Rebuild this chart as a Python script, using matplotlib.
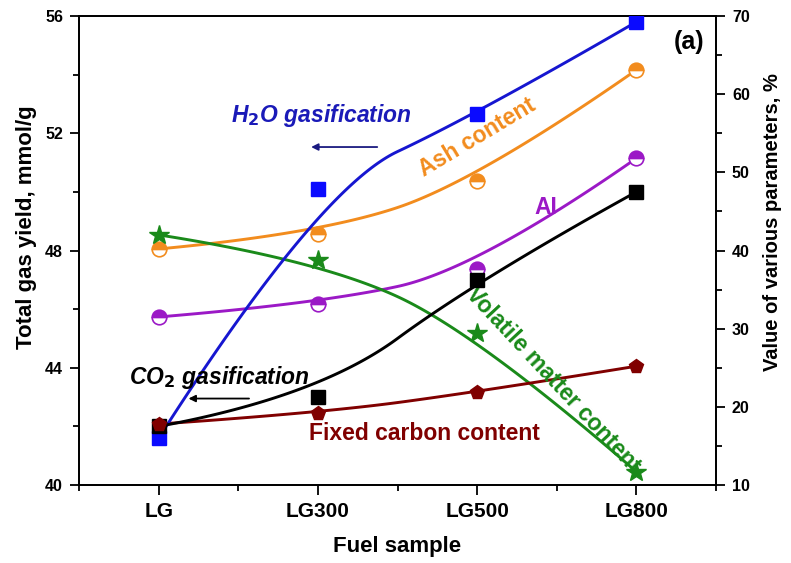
import numpy as np
import matplotlib
matplotlib.use("Agg")
import matplotlib.pyplot as plt
from matplotlib.ticker import MultipleLocator

plt.rcParams['font.family'] = ['Liberation Sans', 'DejaVu Sans']
plt.rcParams['font.weight'] = 'bold'

samples = ["LG", "LG300", "LG500", "LG800"]

# total gas yield, mmol/g (left axis)
h2o_yield = [41.6, 50.1, 52.65, 55.8]
co2_yield = [42.0, 43.0, 47.0, 50.0]

# fuel properties, % (right axis)
ash = [40.2, 42.1, 48.9, 63.1]
ai = [31.5, 33.2, 37.6, 51.8]
volatile = [42.0, 38.8, 29.4, 11.7]
fixed_carbon = [17.8, 19.2, 21.9, 25.2]


def bspline2(xs, ys, n=60):
    # clamped quadratic B-spline using the points as control points
    P = np.column_stack([xs, ys]).astype(float)
    mids = [(P[i] + P[i + 1]) / 2 for i in range(1, len(P) - 2)]
    starts = [P[0]] + mids
    ends = mids + [P[-1]]
    t = np.linspace(0, 1, n)[:, None]
    segs = []
    for k in range(len(starts)):
        c = P[k + 1]
        segs.append((1 - t) ** 2 * starts[k] + 2 * t * (1 - t) * c + t ** 2 * ends[k])
    curve = np.vstack(segs)
    return curve[:, 0], curve[:, 1]


x = np.arange(len(samples))

fig = plt.figure(figsize=(7.91, 5.63), dpi=100)
ax = fig.add_axes([0.0999, 0.1385, 0.8053, 0.8331])
ax2 = ax.twinx()
ax.set_zorder(ax2.get_zorder() + 1)
ax.patch.set_visible(False)

ax.set_xlim(-0.5, 3.5)
ax.set_ylim(40, 56)
ax2.set_ylim(10, 70)

lw = 2.1
right = ax2.transData  # parameter series use the right-hand scale

# curves
ax.plot(*bspline2(x, ash), color='#f28c1e', lw=lw, zorder=2, transform=right)
ax.plot(*bspline2(x, ai), color='#9b19c6', lw=lw, zorder=2, transform=right)
ax.plot(*bspline2(x, volatile), color='#1a8a1a', lw=lw, zorder=2, transform=right)
ax.plot(*bspline2(x, fixed_carbon), color='#800000', lw=lw, zorder=2, transform=right)
ax.plot(*bspline2(x, h2o_yield), color='#1616d0', lw=lw, zorder=2.5)
ax.plot(*bspline2(x, co2_yield), color='black', lw=lw, zorder=2.5)

# markers
ax.plot(x, h2o_yield, 's', ms=9.5, color='#0a0aff', zorder=3)
ax.plot(x, co2_yield, 's', ms=9.5, color='black', zorder=3.1)
ax.plot(x, ash, 'o', ms=10.5, color='#f28c1e', fillstyle='top', markerfacecoloralt='white',
        mec='#f28c1e', mew=1.2, zorder=3, transform=right)
ax.plot(x, ai, 'o', ms=10.5, color='#9b19c6', fillstyle='top', markerfacecoloralt='white',
        mec='#9b19c6', mew=1.2, zorder=3, transform=right)
ax.plot(x, volatile, '*', ms=15, color='#1a8a1a', zorder=3, transform=right)
ax.plot(x, fixed_carbon, 'p', ms=10, color='#800000', zorder=3.2, transform=right)

# axes
ax.set_xticks(x)
ax.set_xticklabels(samples)
ax.xaxis.set_minor_locator(MultipleLocator(0.5))
ax.yaxis.set_major_locator(MultipleLocator(4))
ax.yaxis.set_minor_locator(MultipleLocator(2))
ax2.yaxis.set_major_locator(MultipleLocator(10))
ax2.yaxis.set_minor_locator(MultipleLocator(5))

for a in (ax, ax2):
    a.tick_params(which='major', length=6.5, width=1.3, labelsize=11.5, direction='out', pad=5)
    a.tick_params(which='minor', length=4, width=1.3, direction='out')
    for s in a.spines.values():
        s.set_linewidth(1.3)
ax.tick_params(axis='x', which='major', labelsize=15, length=7, pad=5)
for lab in ax.get_xticklabels() + ax.get_yticklabels() + ax2.get_yticklabels():
    lab.set_fontweight('bold')

ax.set_xlabel("Fuel sample", fontsize=16, fontweight='bold')
ax.set_ylabel("Total gas yield, mmol/g", fontsize=16, fontweight='bold')
ax2.set_ylabel("Value of various parameters, %", fontsize=14.5, fontweight='bold')
ax.xaxis.set_label_coords(0.5, -0.108)
ax.yaxis.set_label_coords(-0.066, 0.55)
ax2.yaxis.set_label_coords(1.074, 0.56)

# annotations
ax.text(1.025, 52.6, "H$_\\mathbf{2}$O gasification", color='#1a1ab8', fontsize=16.5,
        fontweight='bold', style='italic', ha='center', va='center')
ax.annotate("", xy=(0.94, 51.53), xytext=(1.39, 51.53),
            arrowprops=dict(arrowstyle='-|>', color='#1a1a80', lw=1.3, mutation_scale=10))
ax.text(0.384, 43.68, "CO$_\\mathbf{2}$ gasification", color='black', fontsize=16.5,
        fontweight='bold', style='italic', ha='center', va='center')
ax.annotate("", xy=(0.17, 42.95), xytext=(0.585, 42.95),
            arrowprops=dict(arrowstyle='-|>', color='black', lw=1.3, mutation_scale=10))
ax.text(2.0, 51.85, "Ash content", color='#f28c1e', fontsize=16.5, fontweight='bold',
        rotation=31, ha='center', va='center', rotation_mode='anchor')
ax.text(2.43, 49.48, "AI", color='#9b19c6', fontsize=16.5, fontweight='bold',
        ha='center', va='center')
ax.text(2.48, 43.6, "Volatile matter content", color='#1a8a1a', fontsize=16.5,
        fontweight='bold', rotation=-47, ha='center', va='center', rotation_mode='anchor')
ax.text(1.67, 41.77, "Fixed carbon content", color='#800000', fontsize=16.5,
        fontweight='bold', ha='center', va='center')
ax.text(3.33, 55.1, "(a)", color='black', fontsize=18, fontweight='bold',
        ha='center', va='center')

fig.savefig("out.png", dpi=100)
